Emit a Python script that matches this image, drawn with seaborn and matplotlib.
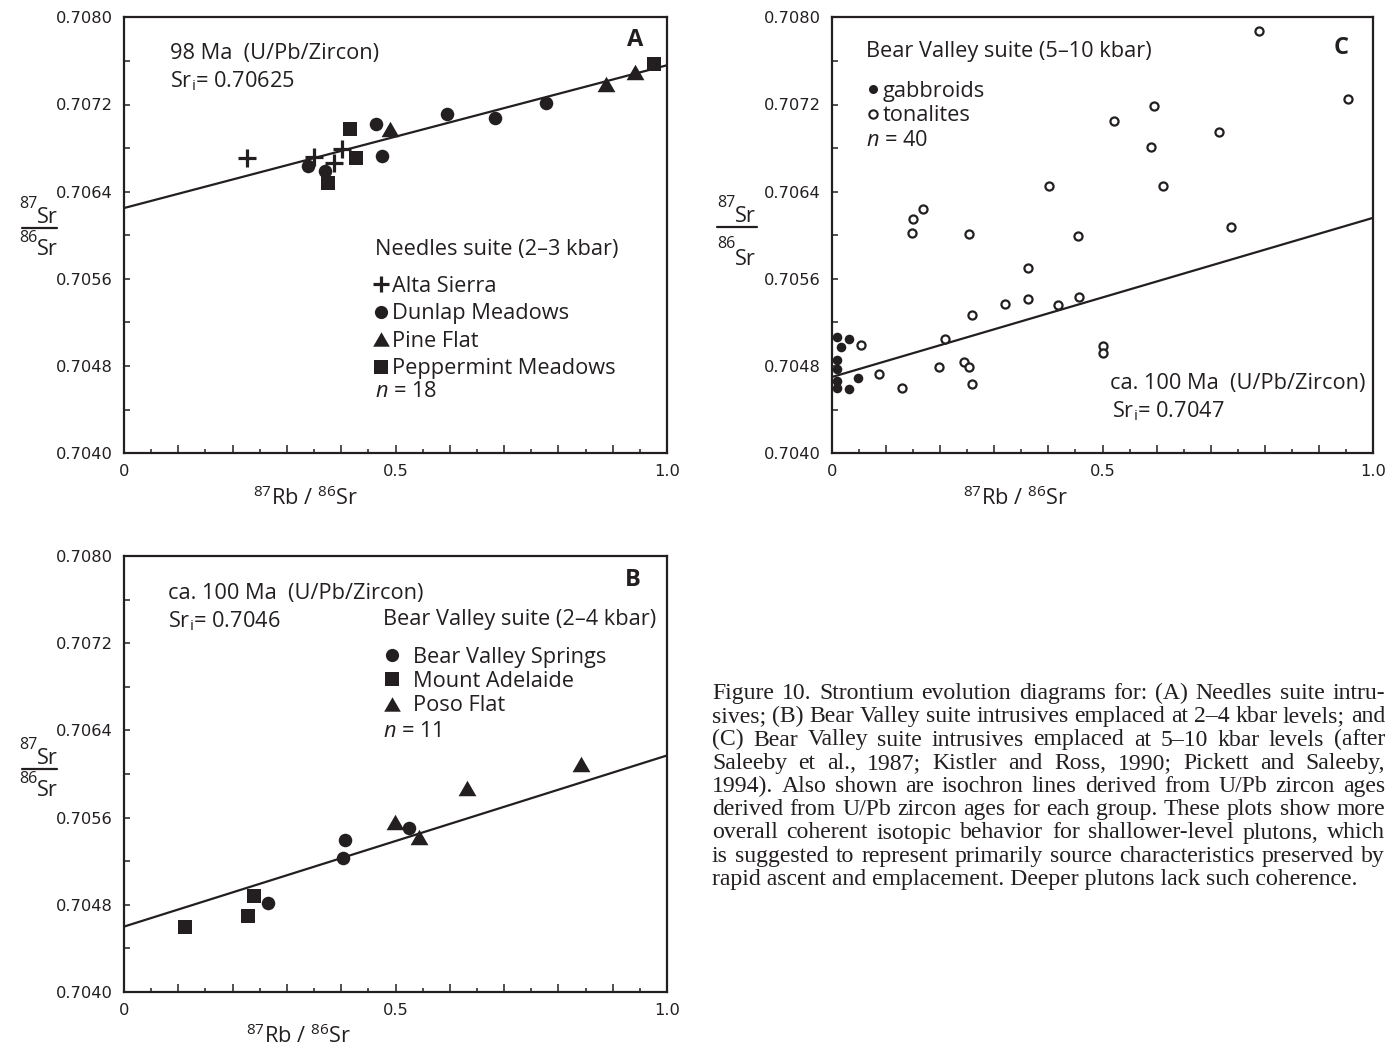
import numpy as np
import pandas as pd
import matplotlib
matplotlib.use("Agg")
import matplotlib.pyplot as plt
from matplotlib.lines import Line2D
from matplotlib.ticker import MultipleLocator, FuncFormatter
import seaborn as sns

# ---------------------------------------------------------------- data
# (A) Needles suite, 2-3 kbar
a_alta_x = [0.227, 0.350, 0.387, 0.402]
a_alta_y = [0.706706, 0.706721, 0.706661, 0.706789]
a_dunlap_x = [0.338, 0.370, 0.464, 0.475, 0.594, 0.683, 0.778]
a_dunlap_y = [0.706636, 0.706590, 0.707021, 0.706728, 0.707110, 0.707073, 0.707211]
a_pine_x = [0.490, 0.888, 0.941]
a_pine_y = [0.706972, 0.707385, 0.707501]
a_pepper_x = [0.376, 0.416, 0.427, 0.976]
a_pepper_y = [0.706477, 0.706975, 0.706712, 0.707572]
a_sri, a_slope = 0.70625, 0.00131

# (B) Bear Valley suite, 2-4 kbar
b_springs_x = [0.265, 0.403, 0.407, 0.524]
b_springs_y = [0.704814, 0.705232, 0.705395, 0.705507]
b_adelaide_x = [0.112, 0.229, 0.239]
b_adelaide_y = [0.704599, 0.704697, 0.704881]
b_poso_x = [0.499, 0.544, 0.632, 0.842]
b_poso_y = [0.705562, 0.705419, 0.705869, 0.706092]
b_sri, b_slope = 0.7046, 0.00157

# (C) Bear Valley suite, 5-10 kbar
c_gabbro_x = [0.010, 0.031, 0.016, 0.010, 0.010, 0.048, 0.010, 0.010, 0.032]
c_gabbro_y = [0.705069, 0.705045, 0.704977, 0.704852, 0.704770, 0.704690,
              0.704660, 0.704595, 0.704592]
c_tonal_x = [0.169, 0.150, 0.148, 0.254, 0.258, 0.053, 0.208, 0.087, 0.129,
             0.198, 0.244, 0.253, 0.258, 0.789, 0.954, 0.595, 0.521, 0.715,
             0.590, 0.401, 0.611, 0.737, 0.455, 0.362, 0.319, 0.362, 0.417,
             0.457, 0.500, 0.500]
c_tonal_y = [0.706240, 0.706146, 0.706017, 0.706008, 0.705265, 0.704990,
             0.705045, 0.704724, 0.704601, 0.704794, 0.704839, 0.704794,
             0.704635, 0.707876, 0.707250, 0.707185, 0.707050, 0.706944,
             0.706812, 0.706451, 0.706451, 0.706078, 0.705993, 0.705702,
             0.705369, 0.705417, 0.705360, 0.705436, 0.704983, 0.704922]
c_sri, c_slope = 0.7047, 0.00146

x_tick_labels = {0: "0", 5: "0.5", 10: "1.0"}

caption_lines = [
    "Figure 10. Strontium evolution diagrams for: (A) Needles suite intru-",
    "sives; (B) Bear Valley suite intrusives emplaced at 2\u20134 kbar levels; and",
    "(C) Bear Valley suite intrusives emplaced at 5\u201310 kbar levels (after",
    "Saleeby et al., 1987; Kistler and Ross, 1990; Pickett and Saleeby,",
    "1994). Also shown are isochron lines derived from U/Pb zircon ages",
    "derived from U/Pb zircon ages for each group. These plots show more",
    "overall coherent isotopic behavior for shallower-level plutons, which",
    "is suggested to represent primarily source characteristics preserved by",
    "rapid ascent and emplacement. Deeper plutons lack such coherence.",
]

# ---------------------------------------------------------------- style
INK = "#231f20"
sns.set_style("ticks")
plt.rcParams["font.family"] = ["Open Sans", "DejaVu Sans"]
plt.rcParams["mathtext.fontset"] = "custom"
plt.rcParams["mathtext.rm"] = "Open Sans"
plt.rcParams["mathtext.it"] = "Open Sans:italic"
plt.rcParams["mathtext.bf"] = "Open Sans:bold"
plt.rcParams["text.color"] = INK

# flattened, equilateral up-triangle
TRI = [(0.0, 0.5), (-0.577, -0.5), (0.577, -0.5)]

W, H = 1396, 1049
fig = plt.figure(figsize=(W / 100, H / 100), dpi=100)


def axes_box(left, top, right, bottom):
    return [left / W, 1 - bottom / H, (right - left) / W, (bottom - top) / H]


axA = fig.add_axes(axes_box(124, 17.3, 667, 453.3))
axC = fig.add_axes(axes_box(832, 17.3, 1373, 453.3))
axB = fig.add_axes(axes_box(124, 556, 667, 992))

TXT = 15.7
SUP = 11.5


def style_axis(ax):
    ax.set_xlim(0, 1)
    ax.set_ylim(0.7040, 0.7080)
    ax.xaxis.set_major_locator(MultipleLocator(0.1))
    ax.xaxis.set_minor_locator(MultipleLocator(0.05))
    ax.yaxis.set_major_locator(MultipleLocator(0.0008))
    ax.yaxis.set_minor_locator(MultipleLocator(0.0004))
    ax.xaxis.set_major_formatter(
        FuncFormatter(lambda v, p: x_tick_labels.get(int(round(v * 10)), "")))
    ax.yaxis.set_major_formatter(FuncFormatter(lambda v, p: f"{v:.4f}"))
    ax.tick_params(which="both", direction="in", top=False, right=False,
                   width=1.1, color=INK, labelsize=11.7, labelcolor=INK,
                   labelfontfamily="DejaVu Sans")
    ax.tick_params(axis="x", which="major", length=6, pad=8)
    ax.tick_params(axis="x", which="minor", length=3)
    ax.tick_params(axis="y", which="both", length=4, pad=8)
    for s in ax.spines.values():
        s.set_visible(True)
        s.set_linewidth(1.6)
        s.set_color(INK)
    ax.set_xlabel("")
    ax.set_ylabel("")


def isochron(ax, sri, slope):
    xs = np.array([0.0, 1.0])
    sns.lineplot(x=xs, y=sri + slope * xs, color=INK, lw=1.6, ax=ax,
                 legend=False)


def scatter(ax, xs, ys, marker, size, face=INK, lw=0.0):
    sns.scatterplot(x=xs, y=ys, marker=marker, s=size, color=face,
                    edgecolor=INK, linewidth=lw, ax=ax, legend=False,
                    zorder=3)


def key(marker, ms, label, face=INK, mew=0.0):
    return Line2D([], [], ls="", marker=marker, ms=ms, color=INK,
                  markerfacecolor=face, markeredgecolor=INK, mew=mew,
                  label=label)


def ylabel_fraction(xc, bar_y, x0, x1, den_sup, den_sr):
    """87Sr over 86Sr, mass numbers raised above the element symbol."""
    kw = dict(va="baseline", color=INK)
    fig.text((xc - 2) / W, 1 - (bar_y - 5) / H, "Sr", ha="left",
             fontsize=TXT, **kw)
    fig.text((xc - 1) / W, 1 - (bar_y - 20) / H, "87", ha="right",
             fontsize=SUP, **kw)
    fig.text((xc - 2) / W, 1 - (bar_y + den_sr) / H, "Sr", ha="left",
             fontsize=TXT, **kw)
    fig.text((xc - 1) / W, 1 - (bar_y + den_sup) / H, "86", ha="right",
             fontsize=SUP, **kw)
    fig.add_artist(Line2D([x0 / W, x1 / W], [1 - bar_y / H, 1 - bar_y / H],
                          color=INK, lw=1.6))


def xlabel(xc, yc):
    fig.text(xc / W, 1 - yc / H, r"$^{\mathrm{87}}$Rb / $^{\mathrm{86}}$Sr",
             ha="center", va="center", fontsize=TXT)


# ---------------------------------------------------------------- panel A
ax = axA
isochron(ax, a_sri, a_slope)
scatter(ax, a_alta_x, a_alta_y, "+", 160, lw=2.3)
scatter(ax, a_dunlap_x, a_dunlap_y, "o", 95)
scatter(ax, a_pine_x, a_pine_y, TRI, 165)
scatter(ax, a_pepper_x, a_pepper_y, "s", 95)
style_axis(ax)
ax.text(0.085, 0.904, "98 Ma  (U/Pb/Zircon)", transform=ax.transAxes,
        fontsize=TXT)
ax.text(0.085, 0.840, r"Sr$_{\mathrm{i}}$= 0.70625", transform=ax.transAxes,
        fontsize=TXT)
ax.text(0.941, 0.934, "A", transform=ax.transAxes, ha="center",
        fontsize=17, fontweight="bold")
ax.text(0.462, 0.455, "Needles suite (2\u20133 kbar)", transform=ax.transAxes,
        fontsize=TXT)
ax.legend(handles=[key("+", 11, "Alta Sierra", mew=2.3),
                   key("o", 9.5, "Dunlap Meadows"),
                   key(TRI, 12, "Pine Flat"),
                   key("s", 9.5, "Peppermint Meadows")],
          loc="upper left", bbox_to_anchor=(0.461, 0.407),
          frameon=False, fontsize=TXT, handlelength=0.6,
          handletextpad=0.2, labelspacing=0.30, borderpad=0,
          borderaxespad=0)
ax.text(0.462, 0.128, r"$n$ = 18", transform=ax.transAxes, fontsize=TXT)

# ---------------------------------------------------------------- panel B
ax = axB
isochron(ax, b_sri, b_slope)
scatter(ax, b_springs_x, b_springs_y, "o", 95)
scatter(ax, b_adelaide_x, b_adelaide_y, "s", 95)
scatter(ax, b_poso_x, b_poso_y, TRI, 165)
style_axis(ax)
ax.text(0.081, 0.902, "ca. 100 Ma  (U/Pb/Zircon)", transform=ax.transAxes,
        fontsize=TXT)
ax.text(0.081, 0.837, r"Sr$_{\mathrm{i}}$= 0.7046", transform=ax.transAxes,
        fontsize=TXT)
ax.text(0.937, 0.931, "B", transform=ax.transAxes, ha="center",
        fontsize=17, fontweight="bold")
ax.text(0.477, 0.842, "Bear Valley suite (2\u20134 kbar)",
        transform=ax.transAxes, fontsize=TXT)
ax.legend(handles=[key("o", 9.5, "Bear Valley Springs"),
                   key("s", 9.5, "Mount Adelaide"),
                   key(TRI, 12, "Poso Flat")],
          loc="upper left", bbox_to_anchor=(0.473, 0.792),
          frameon=False, fontsize=TXT, handlelength=1.0,
          handletextpad=0.46, labelspacing=0.15, borderpad=0,
          borderaxespad=0)
ax.text(0.477, 0.585, r"$n$ = 11", transform=ax.transAxes, fontsize=TXT)

# ---------------------------------------------------------------- panel C
ax = axC
isochron(ax, c_sri, c_slope)
scatter(ax, c_gabbro_x, c_gabbro_y, "o", 48)
scatter(ax, c_tonal_x, c_tonal_y, "o", 34, face="white", lw=1.6)
style_axis(ax)
ax.text(0.063, 0.909, "Bear Valley suite (5\u201310 kbar)",
        transform=ax.transAxes, fontsize=TXT)
ax.legend(handles=[key("o", 6.5, "gabbroids"),
                   key("o", 6.0, "tonalites", face="white", mew=1.5)],
          loc="upper left", bbox_to_anchor=(0.066, 0.854),
          frameon=False, fontsize=TXT, handlelength=0.5,
          handletextpad=0.2, labelspacing=0.15, borderpad=0,
          borderaxespad=0)
ax.text(0.063, 0.705, r"$n$ = 40", transform=ax.transAxes, fontsize=TXT)
ax.text(0.941, 0.916, "C", transform=ax.transAxes, ha="center",
        fontsize=17, fontweight="bold")
ax.text(0.514, 0.1475, "ca. 100 Ma  (U/Pb/Zircon)", transform=ax.transAxes,
        fontsize=TXT)
ax.text(0.5176, 0.083, r"Sr$_{\mathrm{i}}$= 0.7047", transform=ax.transAxes,
        fontsize=TXT)

# ---------------------------------------------------------------- axis titles
xlabel(305, 498)
xlabel(298, 1036)
xlabel(1015, 498)
ylabel_fraction(39, 228, 22, 57, 14, 27)
ylabel_fraction(39, 769, 22, 57, 14, 27)
ylabel_fraction(737, 227, 717, 757, 21, 38)

# ---------------------------------------------------------------- caption
CAP_L, CAP_R = 712, 1385
renderer = fig.canvas.get_renderer()
probe = fig.text(0, 0, caption_lines[-1], fontsize=12,
                 family=["Liberation Serif", "DejaVu Serif"])
cap_size = 12 * 644 / probe.get_window_extent(renderer).width
probe.remove()
for i, line in enumerate(caption_lines):
    yb = 1 - (699 + i * 23.25) / H
    kw = dict(fontsize=cap_size, family=["Liberation Serif", "DejaVu Serif"],
              va="baseline", color=INK)
    if i == len(caption_lines) - 1:
        fig.text(CAP_L / W, yb, line, **kw)
        continue
    # justify the line: spread the words between both margins
    words = line.split(" ")
    texts = [fig.text(0, yb, w, **kw) for w in words]
    widths = [t.get_window_extent(renderer).width for t in texts]
    gap = ((CAP_R - CAP_L) - sum(widths)) / (len(words) - 1)
    x = CAP_L
    for t, w in zip(texts, widths):
        t.set_x(x / W)
        x += w + gap

fig.savefig("out.png", dpi=100, facecolor="white")
